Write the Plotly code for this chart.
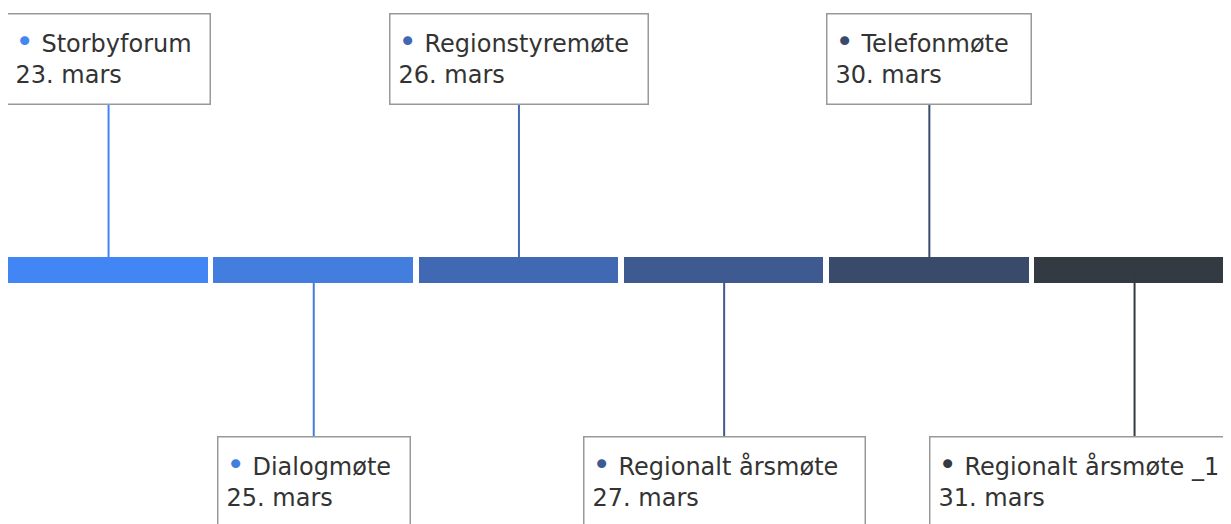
import plotly.graph_objs as go

events = ['Storbyforum', 'Dialogmøte', 'Regionstyremøte', 'Regionalt årsmøte',
          'Telefonmøte', 'Regionalt årsmøte _1']
dates = ['23. mars', '25. mars', '26. mars', '27. mars', '30. mars', '31. mars']
sides = [1, -1, 1, -1, 1, -1]   # label above (1) or below (-1) the bar
colors = ['#4285F4', '#437EDF', '#4169B3', '#3F5A91', '#3A4A6B', '#333A41']

LEVEL = 2.115
BAR_HALF = 0.135
box_widths = [186, 175, 241, 264, 187, 320]

idx = list(range(len(events)))

fig = go.Figure()

# connectors go first so the bar segments sit on top of them
for i, side, col in zip(idx, sides, colors):
    fig.add_trace(go.Scatter(x=[i, i], y=[0, side * LEVEL], mode='lines',
                             line=dict(color=col, width=2),
                             hoverinfo='skip', showlegend=False))

fig.add_trace(go.Bar(x=idx, y=[2 * BAR_HALF] * len(idx), base=-BAR_HALF,
                     width=0.978, marker=dict(color=colors,
                                               line=dict(color='#ffffff', width=1)),
                     hovertext=[f'{e}<br>{d}' for e, d in zip(events, dates)],
                     hoverinfo='text', showlegend=False))

for i, (ev, dt, side, col, w) in enumerate(zip(events, dates, sides, colors, box_widths)):
    last = i == len(events) - 1
    fig.add_annotation(
        x=i, y=side * LEVEL, xref='x', yref='y',
        text=f'<span style="color:{col};font-size:31px">•</span> {ev}<br>{dt}',
        showarrow=False, align='left', valign='top',
        width=w, height=73,
        xanchor='left' if last else 'center',
        xshift=-206 if last else 0,
        yanchor='middle',
        bgcolor='#ffffff', bordercolor='#999999', borderwidth=1.5, borderpad=8,
        font=dict(family='DejaVu Sans', size=24, color='#333333'))

# page body adds an 8px offset, so the ranges are nudged to compensate
fig.update_xaxes(range=[-0.49, 5.509], visible=False, fixedrange=True)
fig.update_yaxes(range=[-2.615, 2.625], visible=False, fixedrange=True)
fig.update_layout(width=1231, height=524, margin=dict(l=0, r=0, t=0, b=0),
                  paper_bgcolor='#ffffff', plot_bgcolor='#ffffff',
                  bargap=0, showlegend=False)

fig.write_html('out.html')
